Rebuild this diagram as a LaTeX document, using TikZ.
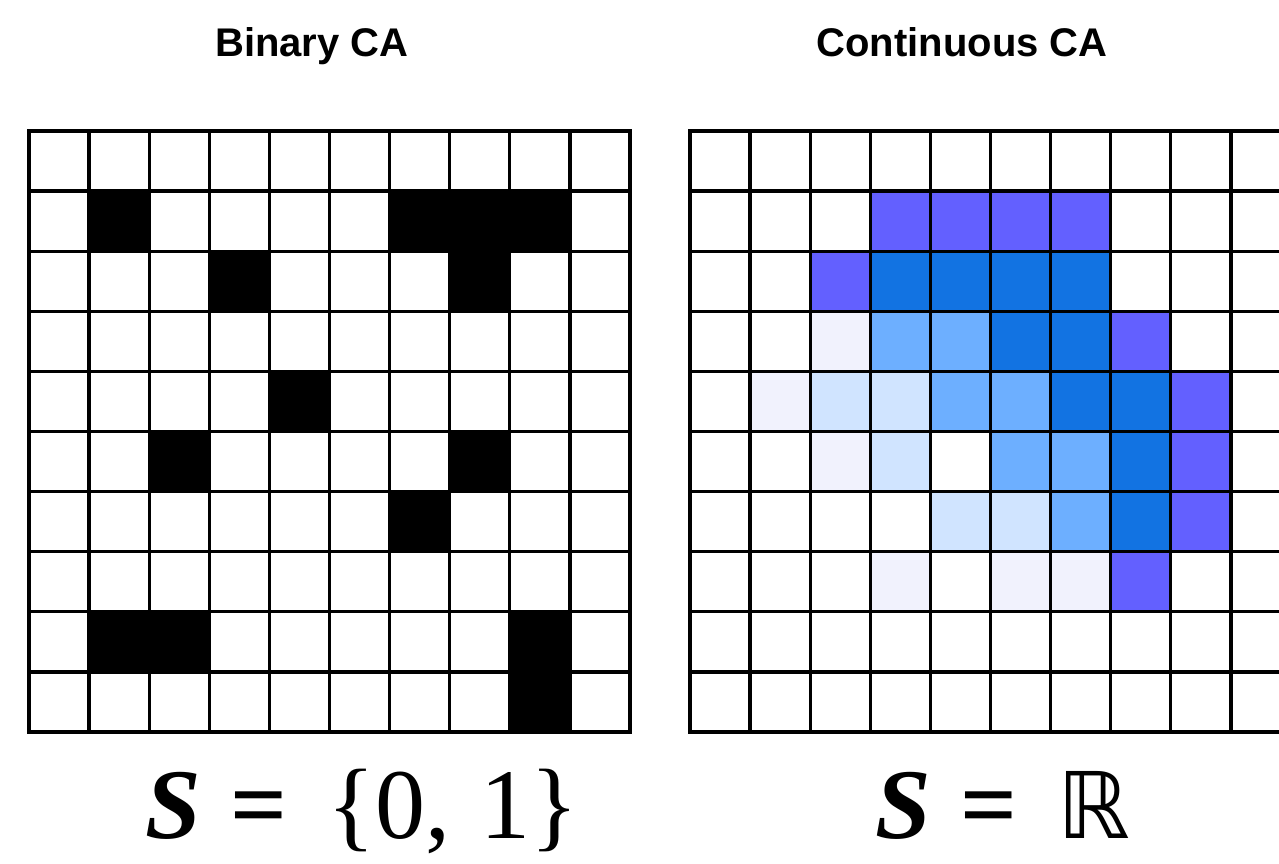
\documentclass[tikz,border=0pt]{standalone}
\usepackage{fontspec}
\setmainfont{Liberation Serif}
\newfontfamily\titlefont{Liberation Sans}
\newfontfamily\dejavu{DejaVu Sans}
\definecolor{cpurple}{HTML}{6360FF}
\definecolor{cdark}{HTML}{1273E2}
\definecolor{cmid}{HTML}{6DAFFF}
\definecolor{clight}{HTML}{D0E4FF}
\definecolor{cpale}{HTML}{F1F2FD}
\begin{document}
\begin{tikzpicture}[x=1pt,y=-1pt,
  gridline/.style={line width=3.3pt, black, line cap=rect},
  titletext/.style={font=\titlefont\bfseries\fontsize{40}{48}\selectfont, anchor=base, inner sep=0pt},
  formula/.style={font=\fontsize{100}{120}\selectfont, anchor=base, inner sep=0pt}]
\useasboundingbox (0,0) rectangle (1279,864);
\fill[white] (0,0) rectangle (1279,864);
\clip (0,0) rectangle (1279,864);
\def\cs{60.1}
% ---- left grid (binary)
\foreach \r/\c in {1/1,1/6,1/7,1/8,2/3,2/7,4/4,5/2,5/7,6/6,8/1,8/2,8/8,9/8}
  \fill[black] (29+\c*\cs,131+\r*\cs) rectangle ++(\cs,\cs);
\foreach \i in {0,...,10} {
  \draw[gridline] (29+\i*\cs,131) -- (29+\i*\cs,732);
  \draw[gridline] (29,131+\i*\cs) -- (630,131+\i*\cs);
}
% ---- right grid (continuous)
\foreach \r/\c in {1/3,1/4,1/5,1/6,2/2,3/7,4/8,5/8,6/8,7/7}
  \fill[cpurple] (690+\c*\cs,131+\r*\cs) rectangle ++(\cs,\cs);
\foreach \r/\c in {2/3,2/4,2/5,2/6,3/5,3/6,4/6,4/7,5/7,6/7}
  \fill[cdark] (690+\c*\cs,131+\r*\cs) rectangle ++(\cs,\cs);
\foreach \r/\c in {3/3,3/4,4/4,4/5,5/5,5/6,6/6}
  \fill[cmid] (690+\c*\cs,131+\r*\cs) rectangle ++(\cs,\cs);
\foreach \r/\c in {4/2,4/3,5/3,6/4,6/5}
  \fill[clight] (690+\c*\cs,131+\r*\cs) rectangle ++(\cs,\cs);
\foreach \r/\c in {3/2,4/1,5/2,7/3,7/5,7/6}
  \fill[cpale] (690+\c*\cs,131+\r*\cs) rectangle ++(\cs,\cs);
\foreach \i in {0,...,10} {
  \draw[gridline] (690+\i*\cs,131) -- (690+\i*\cs,732);
  \draw[gridline] (690,131+\i*\cs) -- (1295,131+\i*\cs);
}
% ---- titles
\node[titletext] (t1) at (312,57) {Binary CA};
\node[titletext] (t2) at (962,57) {Continuous CA};
% ---- formulas
\node[formula] (f1) at (362,838) {\textbf{\textit{S}}\hspace{0.3em}\textbf{=}\hspace{0.4em}\{0,\hspace{0.3em}1\}};
\node[formula] (f2) at (1003,838) {\textbf{\textit{S}}\hspace{0.3em}\textbf{=}\hspace{0.4em}{\dejavu\fontsize{92}{110}\selectfont ℝ}};
\end{tikzpicture}
\end{document}
